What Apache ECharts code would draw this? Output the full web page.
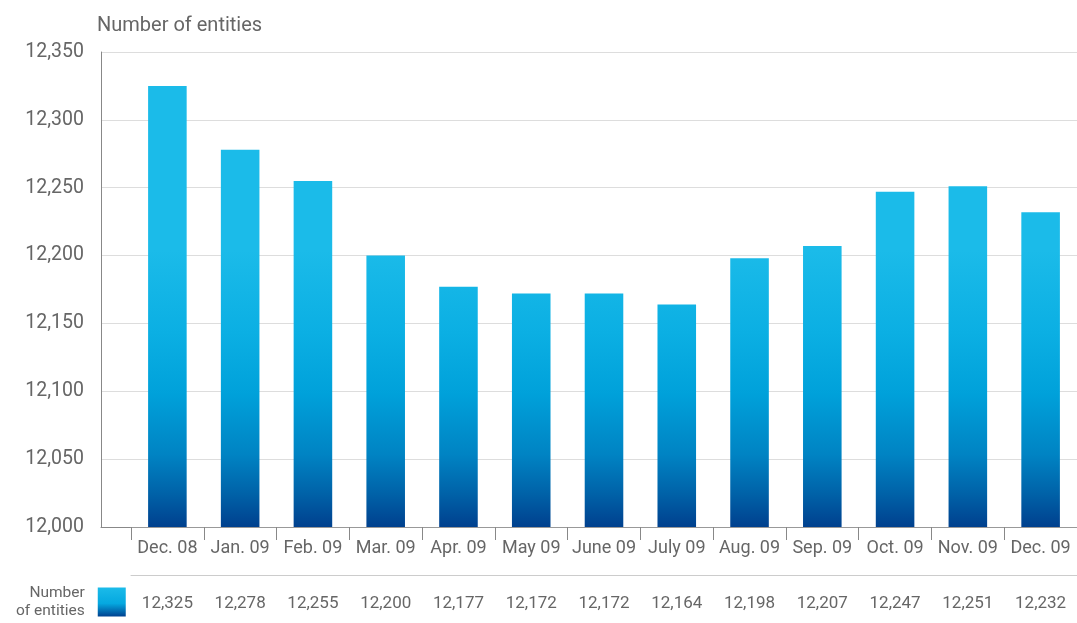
<!DOCTYPE html>
<html>
<head>
<meta charset="utf-8">
<script src="https://cdn.jsdelivr.net/npm/echarts@6/dist/echarts.min.js"></script>
<style>
html,body{margin:0;padding:0;background:#fff;}
#chart{width:1077px;height:623px;}
</style>
</head>
<body>
<div id="chart"></div>
<script>
const categories = ['Dec. 08','Jan. 09','Feb. 09','Mar. 09','Apr. 09','May 09','June 09','July 09','Aug. 09','Sep. 09','Oct. 09','Nov. 09','Dec. 09'];
const entities = [12325,12278,12255,12200,12177,12172,12172,12164,12198,12207,12247,12251,12232];
const yMin = 12000, yMax = 12350, yStep = 50;
const seriesName = 'Number of entities';
const axisTitle = 'Number of entities';

const fmt = v => Number(v).toLocaleString('en-US');
const FONT = 'Roboto, "Liberation Sans", sans-serif';
const TXT = '#666666';

const stops = [
  {offset:0, color:'#1BBBE9'},
  {offset:0.3, color:'#0BAFE3'},
  {offset:0.52, color:'#00A1DA'},
  {offset:0.74, color:'#0083C3'},
  {offset:0.88, color:'#0062A8'},
  {offset:1, color:'#00408E'}
];
const barGradient = {type:'linear', x:0, y:250, x2:0, y2:527, global:true, colorStops:stops};
const swatchGradient = {type:'linear', x:0, y:0, x2:0, y2:1, colorStops:[
  {offset:0, color:'#1BBBE9'},{offset:0.55, color:'#05A8E0'},{offset:1, color:'#00418F'}]};

const chart = echarts.init(document.getElementById('chart'), null, {renderer:'canvas'});
chart.setOption({
  animation:false,
  textStyle:{fontFamily:FONT},
  title:{text:axisTitle, left:97, top:16, padding:0, textStyle:{fontSize:20, fontWeight:'normal', color:TXT, fontFamily:FONT}},
  legend:{
    left:16, top:584, align:'right', orient:'vertical', padding:0,
    itemWidth:28, itemHeight:29, icon:'rect',
    data:[{name:seriesName, itemStyle:{color:swatchGradient}}],
    formatter: () => 'Number\nof entities',
    textStyle:{fontSize:15.5, lineHeight:18, color:TXT, align:'right', padding:[0,8,0,0], fontFamily:FONT}
  },
  grid:[
    {left:101, right:-5, top:52, bottom:96},
    {left:131, right:-5, top:52, bottom:96}
  ],
  xAxis:[
    {gridIndex:0, type:'value', min:0, max:1, axisLine:{show:true, lineStyle:{color:'#888'}}, axisTick:{show:false}, axisLabel:{show:false}, splitLine:{show:false}},
    {gridIndex:1, type:'category', data:categories, axisLine:{show:true, lineStyle:{color:'#999'}},
      axisTick:{show:true, length:13, interval:0, lineStyle:{color:'#888'}},
      axisLabel:{fontSize:18, color:TXT, margin:12, interval:0, fontFamily:FONT}},
    {gridIndex:1, type:'category', data:entities.map(fmt), position:'bottom', offset:48,
      axisLine:{show:true, lineStyle:{color:'#cccccc'}}, axisTick:{show:false},
      axisLabel:{fontSize:17, color:TXT, margin:20, interval:0, fontFamily:FONT}}
  ],
  yAxis:[
    {gridIndex:0, type:'value', min:yMin, max:yMax, interval:yStep,
      axisLine:{show:true, lineStyle:{color:'#888'}}, axisTick:{show:false},
      axisLabel:{fontSize:19.5, color:TXT, margin:17, formatter:fmt, fontFamily:FONT},
      splitLine:{show:true, lineStyle:{color:'#dddddd'}}},
    {gridIndex:1, type:'value', min:yMin, max:yMax, interval:yStep, show:false}
  ],
  series:[{
    name:seriesName, type:'bar', xAxisIndex:1, yAxisIndex:1,
    data:entities, barWidth:'53%',
    itemStyle:{color:barGradient}
  }]
});
</script>
</body>
</html>
